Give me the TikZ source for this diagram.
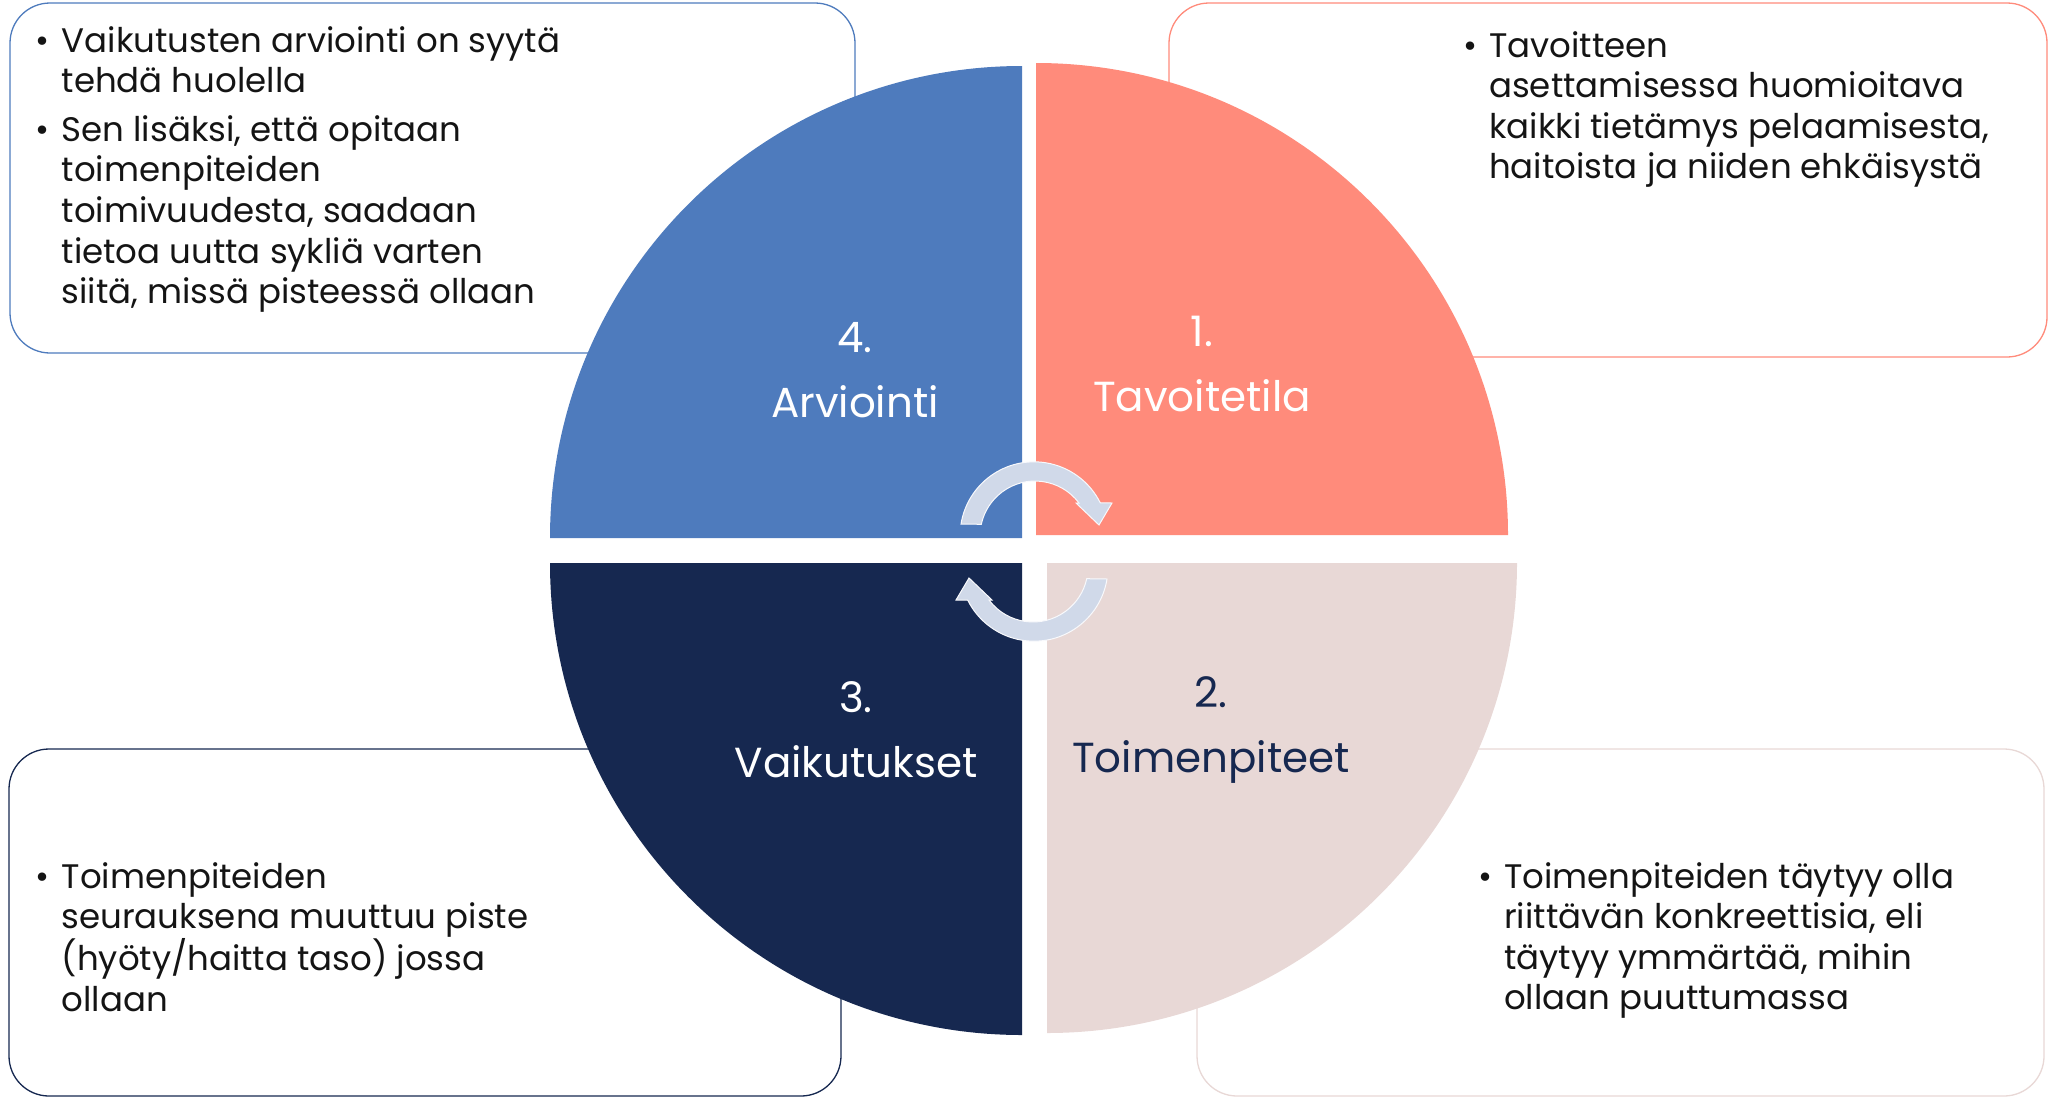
\documentclass[tikz,border=0pt]{standalone}
\usepackage{fontspec}
\setmainfont{Poppins}
\definecolor{qblue}{RGB}{78,123,189}
\definecolor{qsalmon}{RGB}{255,139,123}
\definecolor{qnavy}{RGB}{22,40,80}
\definecolor{qpale}{RGB}{232,216,214}
\definecolor{qarrow}{RGB}{208,217,233}
\definecolor{qtext}{RGB}{20,20,20}
\newcommand{\bl}{\leavevmode\llap{\textbullet\hspace{12pt}}}
\newcommand{\btsize}{\fontsize{34}{40.6}\selectfont}
\tikzset{
  infobox/.style={draw, line width=1.3pt, fill=white, rounded corners=40pt},
  bullettext/.style={inner sep=0pt, anchor=base west, text=qtext},
  qlabel/.style={inner sep=0pt, align=center, text=white, font=\fontsize{42}{65}\selectfont},
  cyclearrow/.style={fill=qarrow, draw=white!85!qarrow, line width=1pt}
}
\begin{document}
\begin{tikzpicture}[x=1pt,y=-1pt]
\useasboundingbox (0,0) rectangle (2053,1098);
% boxes
\draw[infobox, draw=qblue] (10,3) rectangle (855,353);
\draw[infobox, draw=qsalmon] (1169,3) rectangle (2047,357);
\draw[infobox, draw=qnavy] (9,749) rectangle (841,1096);
\draw[infobox, draw=qpale] (1197,749) rectangle (2044,1096);
% quadrants
\fill[qblue] (1022,538) -- ++(-472,0) arc[start angle=180,end angle=270,radius=472] -- cycle;
\fill[qsalmon] (1036,535) -- ++(0,-472) arc[start angle=270,end angle=360,radius=472] -- cycle;
\fill[qnavy] (1022,563) -- ++(0,472) arc[start angle=90,end angle=180,radius=472] -- cycle;
\fill[qpale] (1047,563) -- ++(470,0) arc[start angle=0,end angle=90,radius=470] -- cycle;
% bullet texts
\node[bullettext] (t4) at (61.5,52) {\parbox[t]{790pt}{\btsize\bl Vaikutusten arviointi on syytä\\ tehdä huolella\par\vspace{8pt}\bl Sen lisäksi, että opitaan\\ toimenpiteiden\\ toimivuudesta, saadaan\\ tietoa uutta sykliä varten\\ siitä, missä pisteessä ollaan}};
\node[bullettext] (t1) at (1489,57) {\parbox[t]{550pt}{\btsize\bl Tavoitteen\\ asettamisessa huomioitava\\ kaikki tietämys pelaamisesta,\\ haitoista ja niiden ehkäisystä}};
\node[bullettext] (t3) at (61.5,888) {\parbox[t]{770pt}{\btsize\bl Toimenpiteiden\\ seurauksena muuttuu piste\\ (hyöty/haitta taso) jossa\\ ollaan}};
\node[bullettext] (t2) at (1504,888) {\parbox[t]{540pt}{\btsize\bl Toimenpiteiden täytyy olla\\ riittävän konkreettisia, eli\\ täytyy ymmärtää, mihin\\ ollaan puuttumassa}};
% quadrant labels
\node[qlabel] (q4) at (855,370) {4.\\Arviointi};
\node[qlabel] (q1) at (1202,364) {1.\\Tavoitetila};
\node[qlabel] (q3) at (856,730) {3.\\Vaikutukset};
\node[qlabel, text=qnavy] (q2) at (1211,730) {2.\\Toimenpiteet};
% cycle arrows
\begin{scope}[shift={(1035,536)}]
\draw[cyclearrow] (-74,-12) arc[start angle=189.2,end angle=333.5,radius=74]
  -- (77,-33) -- (64,-11) -- (41,-33) -- (44,-33)
  arc[start angle=323.1,end angle=192.3,radius=55] -- cycle;
\end{scope}
\begin{scope}[shift={(1033,567)},rotate=180]
\draw[cyclearrow] (-74,-12) arc[start angle=189.2,end angle=333.5,radius=74]
  -- (77,-33) -- (64,-11) -- (41,-33) -- (44,-33)
  arc[start angle=323.1,end angle=192.3,radius=55] -- cycle;
\end{scope}
\end{tikzpicture}
\end{document}
